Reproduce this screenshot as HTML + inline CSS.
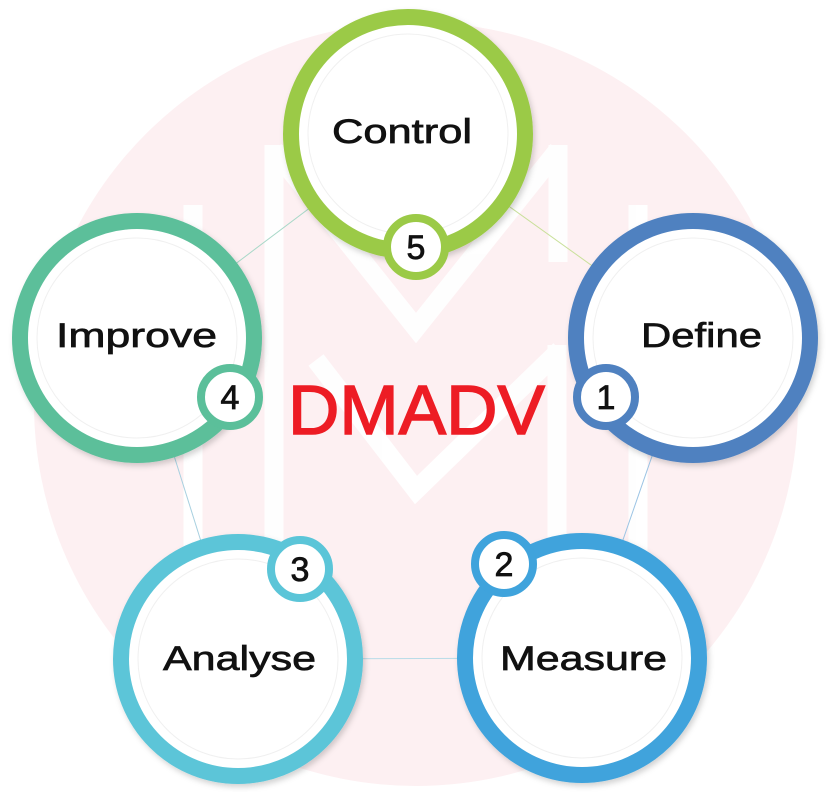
<!DOCTYPE html>
<html><head><meta charset="utf-8"><style>
html,body{margin:0;padding:0;background:#fff;}
svg{display:block;}
</style></head><body>
<svg width="828" height="792" viewBox="0 0 828 792" xmlns="http://www.w3.org/2000/svg" font-family="'Liberation Sans', sans-serif">
<defs>
<filter id="sh" x="-20%" y="-20%" width="140%" height="140%"><feDropShadow dx="2" dy="3" stdDeviation="3" flood-opacity="0.18"/></filter>
</defs>
<circle cx="416" cy="404" r="382" fill="#fdf0f2"/>
<g stroke="#ffffff" stroke-width="19" fill="none" opacity="0.95">
<line x1="193" y1="205" x2="193" y2="560"/>
<line x1="274" y1="145" x2="274" y2="700"/>
<line x1="558" y1="145" x2="558" y2="262"/>
<line x1="557" y1="345" x2="557" y2="700"/>
<line x1="638" y1="205" x2="638" y2="560"/>
<polyline points="274,150 416,328 558,150"/>
<polyline points="316,360 416,490 560,350"/>
</g>
<g stroke-width="1" fill="none">
<line x1="408" y1="134" x2="693" y2="338" stroke="#c9e09a"/>
<line x1="408" y1="134" x2="137" y2="338" stroke="#a8d8c8"/>
<line x1="137" y1="338" x2="238" y2="659" stroke="#a8d0e0"/>
<line x1="693" y1="338" x2="582" y2="658" stroke="#9cc4e4"/>
<line x1="238" y1="659" x2="582" y2="658" stroke="#b8dce8"/>
</g>
<g filter="url(#sh)">
<circle cx="408" cy="134" r="117" fill="#fff" stroke="#9bca47" stroke-width="16"/>
<circle cx="693" cy="338" r="117" fill="#fff" stroke="#4f81c0" stroke-width="16"/>
<circle cx="137" cy="338" r="117" fill="#fff" stroke="#5bbf9a" stroke-width="16"/>
<circle cx="238" cy="659" r="117" fill="#fff" stroke="#5bc5d8" stroke-width="16"/>
<circle cx="582" cy="658" r="117" fill="#fff" stroke="#3fa3dc" stroke-width="16"/>
</g>
<g fill="none" stroke="#f0f0f0" stroke-width="1">
<circle cx="408" cy="134" r="100"/><circle cx="693" cy="338" r="100"/><circle cx="137" cy="338" r="100"/><circle cx="238" cy="659" r="100"/><circle cx="582" cy="658" r="100"/>
</g>
<g fill="#fff" stroke-width="8">
<circle cx="416" cy="247" r="29" stroke="#9bca47"/>
<circle cx="230" cy="397" r="29" stroke="#5bbf9a"/>
<circle cx="606" cy="397" r="29" stroke="#4f81c0"/>
<circle cx="300" cy="569" r="29" stroke="#5bc5d8"/>
<circle cx="504" cy="564" r="29" stroke="#3fa3dc"/>
</g>
<g font-size="34" fill="#111" stroke="#111" stroke-width="0.8" text-anchor="middle">
<text x="416" y="259">5</text>
<text x="230" y="409">4</text>
<text x="606" y="409">1</text>
<text x="300" y="581">3</text>
<text x="504" y="576">2</text>
</g>
<g font-size="34" fill="#111" stroke="#111" stroke-width="0.7">
<text x="332" y="143" textLength="140" lengthAdjust="spacingAndGlyphs">Control</text>
<text x="56" y="347" textLength="161" lengthAdjust="spacingAndGlyphs">Improve</text>
<text x="641" y="347" textLength="121" lengthAdjust="spacingAndGlyphs">Define</text>
<text x="163" y="670" textLength="153" lengthAdjust="spacingAndGlyphs">Analyse</text>
<text x="500" y="670" textLength="167" lengthAdjust="spacingAndGlyphs">Measure</text>
</g>
<text x="288" y="434" font-size="70" fill="#ed1c24" stroke="#ed1c24" stroke-width="1.5" textLength="257" lengthAdjust="spacingAndGlyphs">DMADV</text>
</svg>
</body></html>
